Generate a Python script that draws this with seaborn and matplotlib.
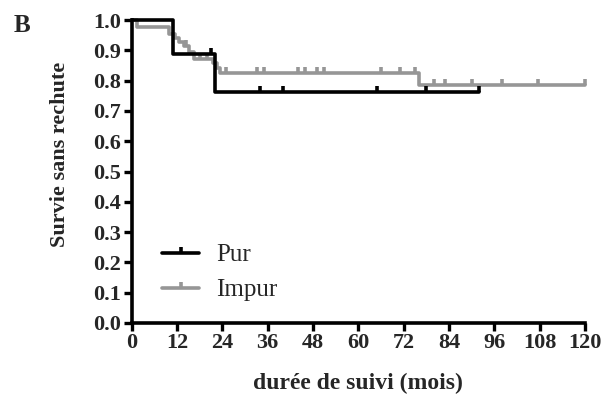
import numpy as np
import pandas as pd
import matplotlib.pyplot as plt
import seaborn as sns
from matplotlib.lines import Line2D

# Kaplan-Meier steps (months, survival)
pur_times = [0, 11, 22, 92]
pur_surv = [1.0, 0.889, 0.762, 0.762]
pur_censor = [21, 34, 40, 65, 78, 92]

impur_times = [0, 1.5, 9.8, 11.5, 12.6, 13.8, 15.1, 16.6, 21.6, 22.5, 23.5, 76, 120]
impur_surv = [1.0, 0.977, 0.955, 0.94, 0.926, 0.913, 0.894, 0.87, 0.857, 0.842, 0.826, 0.785, 0.785]
impur_censor = [14.5, 18, 20, 25, 33.3, 35, 44, 46, 49, 51, 66, 71, 75, 80, 83, 90, 98, 107.5, 120]

x_ticks = list(range(0, 121, 12))
y_ticks = [i / 10 for i in range(11)]

black = "#000000"
grey = "#969696"
lw = 2.6


def surv_at(times, surv, t):
    idx = np.searchsorted(times, t, side="right") - 1
    return surv[idx]


sns.set_style("white")
plt.rcParams["font.family"] = ["Liberation Serif", "DejaVu Serif"]

fig = plt.figure(figsize=(6.04, 4.0), dpi=100)
ax = fig.add_axes([0.218, 0.1925, 0.7505, 0.7575])

series = [
    ("Impur", impur_times, impur_surv, impur_censor, grey),
    ("Pur", pur_times, pur_surv, pur_censor, black),
]
for name, times, surv, cens, col in series:
    df = pd.DataFrame({"t": times, "s": surv})
    sns.lineplot(data=df, x="t", y="s", drawstyle="steps-post", estimator=None,
                 color=col, linewidth=lw, ax=ax, clip_on=False)
    cdf = pd.DataFrame({"t": cens, "s": [surv_at(times, surv, c) for c in cens]})
    ax.plot(cdf["t"], cdf["s"], linestyle="none", marker=2, markersize=4,
            markeredgewidth=lw, color=col, clip_on=False)

ax.set_xlim(0, 120)
ax.set_ylim(0, 1.0)
ax.set_xticks(x_ticks)
ax.set_yticks(y_ticks)
ax.set_xticklabels([str(v) for v in x_ticks], fontsize=16, fontweight="bold")
ax.set_yticklabels([f"{v:.1f}" for v in y_ticks], fontsize=16, fontweight="bold")
ax.tick_params(axis="both", direction="out", length=6, width=2.4, color="black",
               pad=1.5, bottom=True, left=True)
for side in ["top", "right"]:
    ax.spines[side].set_visible(False)
for side in ["left", "bottom"]:
    ax.spines[side].set_linewidth(2.6)
    ax.spines[side].set_color("black")

ax.set_xlabel("durée de suivi (mois)", fontsize=17, fontweight="bold", labelpad=14)
ax.set_ylabel("Survie sans rechute", fontsize=16, fontweight="bold")
ax.yaxis.set_label_coords(-0.135, 0.558)

handles = [
    Line2D([], [], color=black, linewidth=lw, marker=2, markersize=4, markeredgewidth=lw),
    Line2D([], [], color=grey, linewidth=lw, marker=2, markersize=4, markeredgewidth=lw),
]
ax.legend(handles, ["Pur", "Impur"], loc="lower left", bbox_to_anchor=(0.017, -0.003),
          frameon=False, fontsize=18, handlelength=1.5, labelspacing=0.5,
          handletextpad=0.67, numpoints=1)

fig.text(0.022, 0.92, "B", fontsize=18, fontweight="bold")

fig.savefig("out.png", dpi=100)
